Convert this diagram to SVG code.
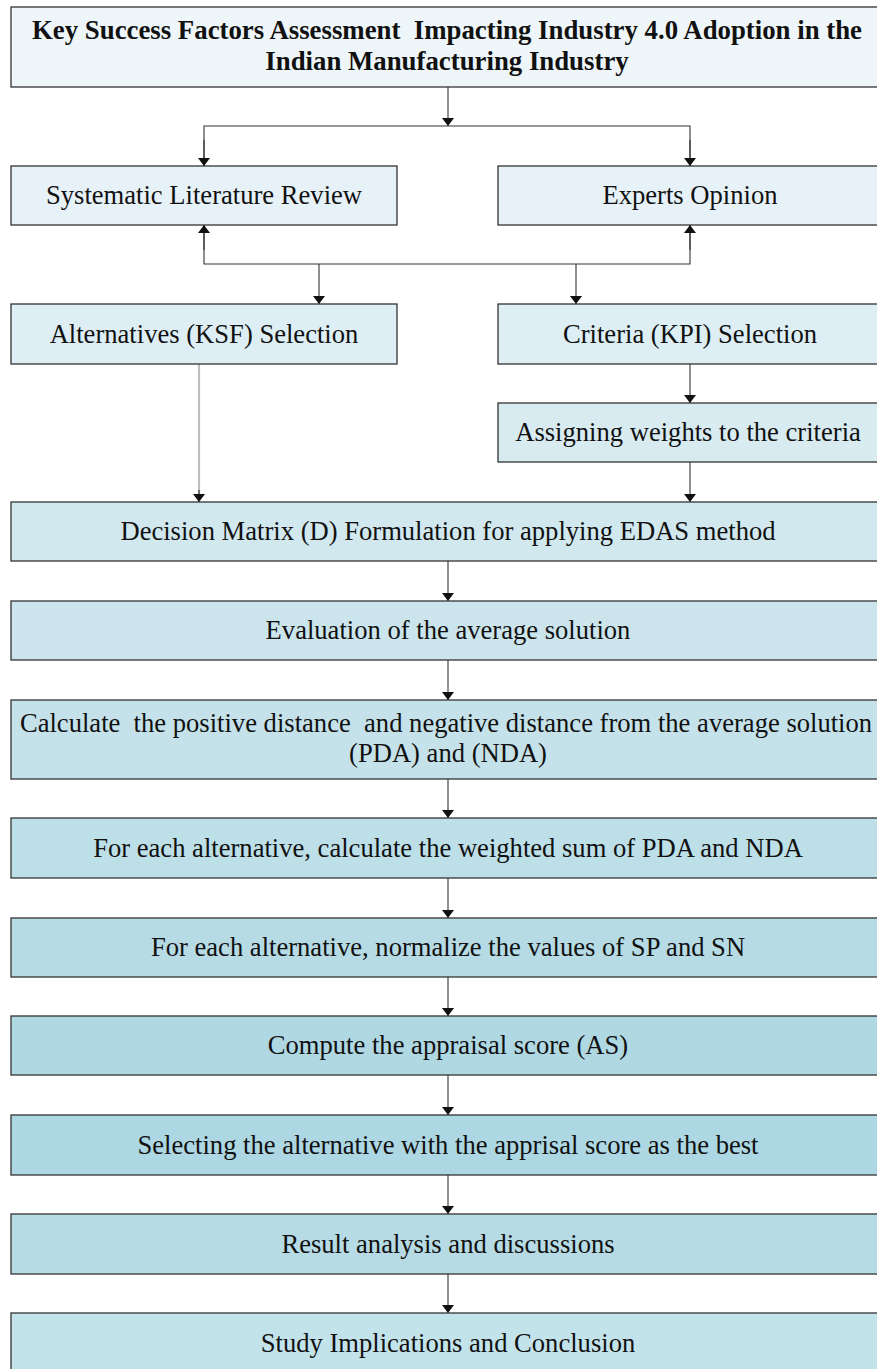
<svg xmlns="http://www.w3.org/2000/svg" width="877" height="1369" viewBox="0 0 877 1369">
  <defs>
    <marker id="arrowUp" viewBox="0 0 12 8" refX="6" refY="0" markerWidth="12" markerHeight="8" markerUnits="userSpaceOnUse" orient="0">
      <path d="M0,8 L12,8 L6,0 Z" fill="#111"/>
    </marker>
    <marker id="arrowDown" viewBox="0 0 12 8" refX="6" refY="8" markerWidth="12" markerHeight="8" markerUnits="userSpaceOnUse" orient="0">
      <path d="M0,0 L12,0 L6,8 Z" fill="#111"/>
    </marker>
  </defs>
  <style>
    .box { stroke: #333; stroke-width: 1.3; }
    .lbl { font-family: "Liberation Serif", "Times New Roman", serif; font-size: 26.6px; fill: #111; text-anchor: middle; white-space: pre; }
    .title { font-family: "Liberation Serif", "Times New Roman", serif; font-size: 26.8px; font-weight: bold; fill: #111; text-anchor: middle; white-space: pre; }
    .wire { fill: none; stroke: #333; stroke-width: 1.1; }
    .wire-gray { fill: none; stroke: #bdbdbd; stroke-width: 2.2; }
  </style>
  <rect width="877" height="1369" fill="#fff"/>

  <!-- connectors -->
  <g id="connectors">
    <line class="wire" x1="448" y1="87" x2="448" y2="126" marker-end="url(#arrowDown)"/>
    <polyline class="wire" points="204,166 204,126 690,126 690,166"/>
    <line class="wire" x1="204" y1="140" x2="204" y2="166" marker-end="url(#arrowDown)"/>
    <line class="wire" x1="690" y1="140" x2="690" y2="166" marker-end="url(#arrowDown)"/>
    <polyline class="wire" points="204,225 204,264 690,264 690,225"/>
    <line class="wire" x1="204" y1="250" x2="204" y2="225" marker-end="url(#arrowUp)"/>
    <line class="wire" x1="690" y1="250" x2="690" y2="225" marker-end="url(#arrowUp)"/>
    <line class="wire" x1="319" y1="264" x2="319" y2="304" marker-end="url(#arrowDown)"/>
    <line class="wire" x1="576" y1="264" x2="576" y2="304" marker-end="url(#arrowDown)"/>
    <line class="wire" x1="690" y1="364" x2="690" y2="403" marker-end="url(#arrowDown)"/>
    <line class="wire-gray" x1="199" y1="362" x2="199" y2="496"/>
    <line class="wire" x1="199" y1="490" x2="199" y2="502" marker-end="url(#arrowDown)"/>
    <line class="wire" x1="690" y1="462" x2="690" y2="502" marker-end="url(#arrowDown)"/>
    <line class="wire" x1="448" y1="561" x2="448" y2="601" marker-end="url(#arrowDown)"/>
    <line class="wire" x1="448" y1="660" x2="448" y2="700" marker-end="url(#arrowDown)"/>
    <line class="wire" x1="448" y1="779" x2="448" y2="818" marker-end="url(#arrowDown)"/>
    <line class="wire" x1="448" y1="878" x2="448" y2="918" marker-end="url(#arrowDown)"/>
    <line class="wire" x1="448" y1="977" x2="448" y2="1016" marker-end="url(#arrowDown)"/>
    <line class="wire" x1="448" y1="1075" x2="448" y2="1115" marker-end="url(#arrowDown)"/>
    <line class="wire" x1="448" y1="1175" x2="448" y2="1214" marker-end="url(#arrowDown)"/>
    <line class="wire" x1="448" y1="1274" x2="448" y2="1313" marker-end="url(#arrowDown)"/>
  </g>

  <g id="title">
    <rect class="box" x="11" y="7" width="874" height="80" fill="#eef6f9"/>
    <text class="title" x="447" y="39">Key Success Factors Assessment  Impacting Industry 4.0 Adoption in the</text>
    <text class="title" x="447" y="70">Indian Manufacturing Industry</text>
  </g>

  <g id="slr">
    <rect class="box" x="11" y="166" width="386" height="59" fill="#e6f2f7"/>
    <text class="lbl" x="204" y="204">Systematic Literature Review</text>
  </g>
  <g id="experts">
    <rect class="box" x="498" y="166" width="386" height="59" fill="#e6f2f7"/>
    <text class="lbl" x="690" y="204">Experts Opinion</text>
  </g>

  <g id="alternatives">
    <rect class="box" x="11" y="304" width="386" height="60" fill="#ddeef4"/>
    <text class="lbl" x="204" y="343">Alternatives (KSF) Selection</text>
  </g>
  <g id="criteria">
    <rect class="box" x="498" y="304" width="386" height="60" fill="#ddeef4"/>
    <text class="lbl" x="690" y="343">Criteria (KPI) Selection</text>
  </g>

  <g id="weights">
    <rect class="box" x="498" y="403" width="386" height="59" fill="#d8ebf1"/>
    <text class="lbl" x="688" y="441">Assigning weights to the criteria</text>
  </g>

  <g id="decision-matrix">
    <rect class="box" x="11" y="502" width="874" height="59" fill="#d2e8ef"/>
    <text class="lbl" x="448" y="540">Decision Matrix (D) Formulation for applying EDAS method</text>
  </g>

  <g id="average-solution">
    <rect class="box" x="11" y="601" width="874" height="59" fill="#cce5ed"/>
    <text class="lbl" x="448" y="639">Evaluation of the average solution</text>
  </g>

  <g id="pda-nda">
    <rect class="box" x="11" y="700" width="874" height="79" fill="#c5e2ea"/>
    <text class="lbl" x="446" y="732">Calculate  the positive distance  and negative distance from the average solution</text>
    <text class="lbl" x="448" y="762">(PDA) and (NDA)</text>
  </g>

  <g id="weighted-sum">
    <rect class="box" x="11" y="818" width="874" height="60" fill="#bddfe8"/>
    <text class="lbl" x="448" y="857">For each alternative, calculate the weighted sum of PDA and NDA</text>
  </g>

  <g id="normalize">
    <rect class="box" x="11" y="918" width="874" height="59" fill="#b6dbe5"/>
    <text class="lbl" x="448" y="956">For each alternative, normalize the values of SP and SN</text>
  </g>

  <g id="appraisal-score">
    <rect class="box" x="11" y="1016" width="874" height="59" fill="#afd8e3"/>
    <text class="lbl" x="448" y="1054">Compute the appraisal score (AS)</text>
  </g>

  <g id="best-alternative">
    <rect class="box" x="11" y="1115" width="874" height="60" fill="#add7e2"/>
    <text class="lbl" x="448" y="1154">Selecting the alternative with the apprisal score as the best</text>
  </g>

  <g id="results">
    <rect class="box" x="11" y="1214" width="874" height="60" fill="#b6dbe5"/>
    <text class="lbl" x="448" y="1253">Result analysis and discussions</text>
  </g>

  <g id="conclusion">
    <rect class="box" x="11" y="1313" width="874" height="60" fill="#c3e3eb"/>
    <text class="lbl" x="448" y="1352">Study Implications and Conclusion</text>
  </g>
</svg>
